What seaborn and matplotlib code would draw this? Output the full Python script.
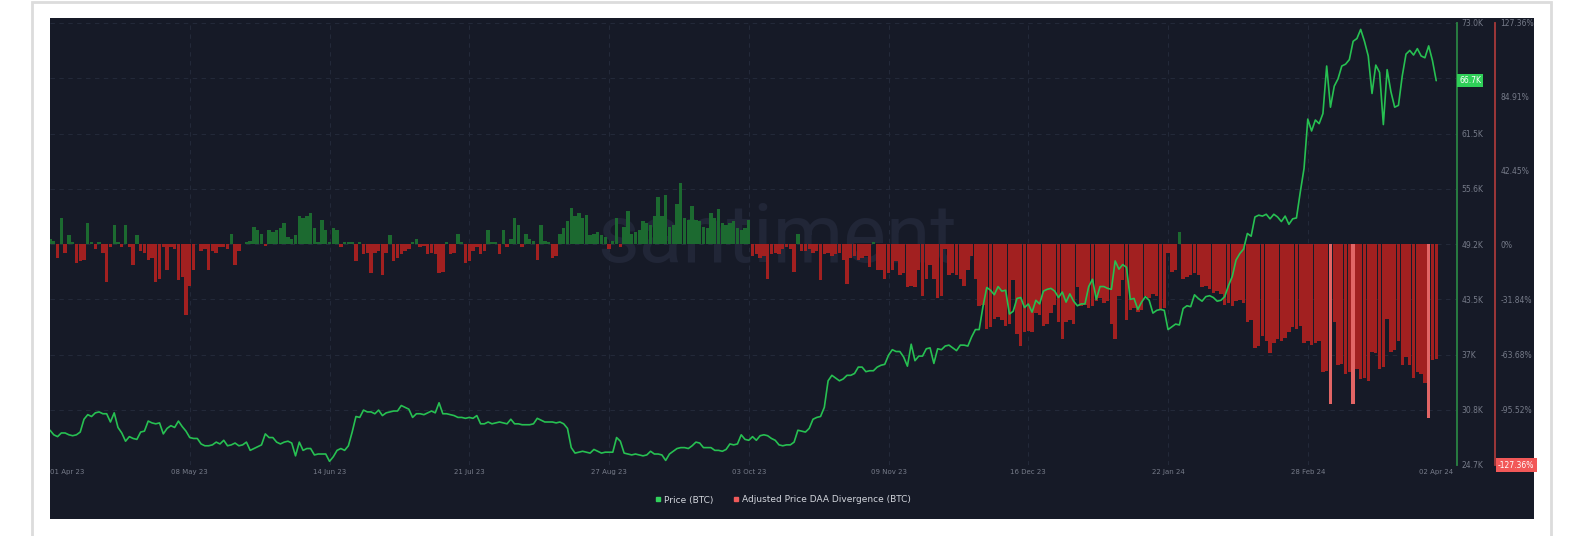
import numpy as np
import pandas as pd
import matplotlib
matplotlib.use('Agg')
import matplotlib.pyplot as plt
from matplotlib.patches import Rectangle
from matplotlib.lines import Line2D
import seaborn as sns

# BTC daily price in thousand USD, 01 Apr 2023 .. 02 Apr 2024
price_k = [
    # Apr 23
    28.5, 28.0, 27.8, 28.2, 28.2, 28.0, 27.9, 28.0, 28.3, 29.7,
    30.2, 30.0, 30.4, 30.5, 30.3, 30.3, 29.4, 30.4, 28.8, 28.2,
    27.3, 27.8, 27.6, 27.5, 28.3, 28.4, 29.5, 29.3, 29.2, 29.3,
    # May 23
    28.1, 28.7, 29.0, 28.8, 29.5, 28.9, 28.4, 27.7, 27.6, 27.6,
    27.0, 26.8, 26.8, 26.9, 27.2, 27.0, 27.4, 26.8, 26.9, 27.1,
    26.8, 26.9, 27.2, 26.3, 26.5, 26.7, 26.9, 28.1, 27.7, 27.7,
    27.2,
    # Jun 23
    27.0, 27.2, 27.3, 27.1, 25.7, 27.2, 26.3, 26.5, 26.5, 25.8,
    25.9, 25.9, 25.9, 25.1, 25.6, 26.3, 26.5, 26.3, 26.8, 28.3,
    30.0, 29.9, 30.7, 30.5, 30.5, 30.3, 30.7, 30.1, 30.4, 30.5,
    # Jul 23
    30.6, 30.6, 31.2, 31.0, 30.8, 29.9, 30.3, 30.3, 30.2, 30.4,
    30.6, 30.4, 31.5, 30.3, 30.3, 30.2, 30.1, 29.9, 29.9, 29.8,
    29.9, 29.8, 30.1, 29.2, 29.2, 29.4, 29.2, 29.3, 29.4, 29.3,
    29.2,
    # Aug 23
    29.7, 29.2, 29.2, 29.1, 29.1, 29.1, 29.2, 29.8, 29.6, 29.4,
    29.4, 29.4, 29.3, 29.4, 29.2, 28.7, 26.6, 26.0, 26.1, 26.2,
    26.1, 26.0, 26.4, 26.2, 26.0, 26.1, 26.1, 26.1, 27.7, 27.3,
    26.0,
    # Sep 23
    25.9, 25.8, 25.9, 25.8, 25.7, 25.8, 26.2, 25.9, 25.9, 25.8,
    25.2, 25.9, 26.2, 26.5, 26.6, 26.6, 26.5, 26.8, 27.2, 27.1,
    26.6, 26.6, 26.6, 26.3, 26.3, 26.2, 26.4, 27.0, 26.9, 27.0,
    # Oct 23
    28.0, 27.5, 27.4, 27.8, 27.4, 27.9, 28.0, 27.9, 27.6, 27.4,
    26.9, 26.8, 26.9, 26.9, 27.2, 28.5, 28.4, 28.3, 28.7, 29.7,
    29.9, 30.0, 31.0, 33.9, 34.5, 34.2, 33.9, 34.1, 34.5, 34.5,
    34.7,
    # Nov 23
    35.4, 35.4, 34.9, 35.0, 35.0, 35.4, 35.6, 35.7, 36.7, 37.3,
    37.1, 37.1, 36.5, 35.5, 37.9, 36.1, 36.6, 36.6, 37.4, 37.5,
    35.8, 37.4, 37.3, 37.7, 37.8, 37.5, 37.2, 37.8, 37.8, 37.7,
    # Dec 23
    38.7, 39.5, 39.5, 42.0, 44.1, 43.8, 43.3, 44.2, 43.7, 43.8,
    41.2, 41.5, 42.9, 43.0, 41.9, 42.3, 41.4, 42.7, 42.3, 43.7,
    43.9, 44.0, 43.7, 43.0, 43.6, 42.5, 43.4, 42.6, 42.1, 42.3,
    42.3,
    # Jan 24
    44.2, 45.0, 42.8, 44.2, 44.2, 44.0, 43.9, 47.0, 46.1, 46.6,
    46.3, 42.8, 42.9, 41.7, 42.5, 43.1, 42.7, 41.3, 41.6, 41.7,
    41.6, 39.5, 39.8, 40.1, 40.0, 41.8, 42.1, 42.0, 43.3, 42.9,
    42.6,
    # Feb 24
    43.1, 43.2, 43.0, 42.6, 42.7, 43.1, 44.3, 45.3, 47.1, 47.8,
    48.3, 50.0, 49.7, 51.8, 52.0, 51.9, 52.1, 51.6, 52.1, 51.8,
    51.3, 51.9, 51.0, 51.6, 51.7, 54.5, 57.1, 62.5, 61.2,
    # Mar 24
    62.4, 62.0, 63.1, 68.3, 63.8, 66.1, 66.9, 68.3, 68.5, 69.0,
    71.0, 71.3, 72.3, 71.0, 69.4, 65.3, 68.4, 67.6, 61.9, 67.9,
    65.5, 63.8, 64.0, 67.2, 69.6, 70.0, 69.5, 70.2, 69.4, 69.2,
    70.5,
    # Apr 24
    68.9, 66.7,
]

# Adjusted Price DAA Divergence (BTC), percent, same days
divergence = [
    3, 2, -8, 15, -5, 5, 1, -11, -10, -9,
    12, 1, -3, 1, -5, -22, -2, 11, 1, -2,
    11, -2, -12, 5, -4, -5, -9, -8, -22, -20,
    -2, -15, -2, -3, -21, -19, -41, -24, -15, 0,
    -4, -3, -15, -4, -5, -2, -2, -3, 6, -12,
    -4, 0, 1, 2, 10, 8, 6, -1, 8, 7,
    8, 9, 12, 4, 3, 5, 16, 15, 16, 18,
    9, 1, 14, 8, 1, 9, 8, -2, 1, 1,
    1, -10, 1, -6, -5, -17, -5, -4, -18, -5,
    5, -10, -8, -6, -4, -3, 1, 3, -2, -1,
    -6, -5, -6, -17, -16, 1, -6, -5, 6, 1,
    -11, -10, -4, -2, -6, -4, 8, 1, 1, -6,
    8, -2, 3, 15, 11, -2, 6, 3, 2, -9,
    11, 2, 1, -8, -7, 6, 9, 13, 21, 16,
    18, 15, 17, 5, 6, 7, 5, 4, -3, 2,
    15, -2, 10, 19, 6, 7, 8, 13, 12, 11,
    16, 27, 16, 28, 10, 11, 23, 35, 15, 14,
    22, 14, 13, 10, 9, 18, 15, 20, 12, 11,
    12, 13, 9, 8, 9, 14, -7, -6, -8, -7,
    -20, -6, -5, -6, -3, -2, -3, -16, 6, -4,
    -4, -3, -5, -4, -21, -6, -5, -7, -6, -5,
    -9, -23, -8, -7, -9, -8, -7, -13, 1, -15,
    -15, -20, -17, -15, -10, -18, -17, -25, -24, -25,
    -15, -30, -20, -12, -20, -31, -30, -3, -18, -17,
    -18, -20, -24, -15, -7, -20, -36, -35, -49, -48,
    -43, -42, -44, -47, -46, -21, -52, -59, -51, -50,
    -51, -40, -41, -47, -46, -40, -35, -45, -55, -45,
    -44, -46, -25, -36, -35, -37, -36, -33, -31, -34,
    -33, -46, -55, -30, -21, -44, -38, -37, -39, -38,
    -30, -31, -29, -30, -38, -37, -5, -16, -15, 7,
    -20, -19, -18, -17, -18, -25, -24, -26, -28, -27,
    -29, -35, -34, -36, -33, -32, -34, -45, -44, -60,
    -59, -53, -56, -63, -57, -55, -56, -54, -51, -48,
    -49, -47, -57, -56, -58, -57, -56, -74, -73, -92,
    -45, -70, -69, -75, -74, -92, -72, -78, -77, -79,
    -62, -63, -72, -71, -43, -62, -61, -56, -70, -65,
    -70, -77, -74, -75, -80, -100, -67, -66,
]

price_tick_labels = ['24.7K', '30.8K', '37K', '43.5K', '49.2K', '55.6K', '61.5K', '67.1K', '73.0K']
pct_ticks = [127.36, 84.91, 42.45, 0, -31.84, -63.68, -95.52]
pct_tick_labels = ['127.36%', '84.91%', '42.45%', '0%', '-31.84%', '-63.68%', '-95.52%']
date_ticks = ['2023-04-01', '2023-05-08', '2023-06-14', '2023-07-21', '2023-08-27', '2023-10-03',
              '2023-11-09', '2023-12-16', '2024-01-22', '2024-02-28', '2024-04-02']
legend_labels = ['Price (BTC)', 'Adjusted Price DAA Divergence (BTC)']

BG = '#161a27'
GRID = '#232939'
TICK = '#767b89'
LINE = '#27c052'
RED_BAR = '#a22020'
GREEN_BAR = '#1c6a30'
PALE_BAR = '#e26565'

dates = pd.date_range('2023-04-01', periods=len(price_k), freq='D')
df = pd.DataFrame({'date': dates, 'price': price_k, 'div': divergence})

sns.set_theme(style='dark')
plt.rcParams['font.family'] = ['DejaVu Sans']

W, H = 1595, 536
fig = plt.figure(figsize=(W / 100, H / 100), dpi=100, facecolor='white')


def box(x0, y0, x1, y1):
    return [x0 / W, 1 - y1 / H, (x1 - x0) / W, (y1 - y0) / H]


# light frame of the card
fig.add_artist(Rectangle((32 / W, -0.05), (1551 - 32) / W, 1.05 - 1.5 / H,
                         transform=fig.transFigure, fill=False, edgecolor='#dcdcdc', lw=2))

# dark panel + watermark
bg = fig.add_axes(box(50, 18, 1534, 519))
bg.set_facecolor(BG)
bg.set_xticks([])
bg.set_yticks([])
for s in bg.spines.values():
    s.set_visible(False)
bg.text(0.497, 0.513, 'santiment.', transform=bg.transAxes, ha='center', va='baseline',
        fontsize=58, family='Roboto', color='#212637')

# plot area
ax = fig.add_axes(box(50, 23, 1457, 465))
ax2 = ax.twinx()
ax.set_zorder(ax2.get_zorder() + 1)
ax.patch.set_visible(False)
ax2.patch.set_visible(False)

start = dates[0]
ax.set_xlim(start, start + pd.Timedelta(days=372.5))
ax.set_ylim(24.7, 73.0)
ax2.set_ylim(-127.36, 127.36)

# grid (drawn on the bar axes so it stays behind everything)
price_pos = np.linspace(24.7, 73.0, len(price_tick_labels))
for i in range(len(price_pos)):
    f = i / (len(price_pos) - 1)
    ax2.plot([0, 1], [f, f], transform=ax2.transAxes, color=GRID, lw=0.8, ls=(0, (4, 4)), zorder=0)
for d in date_ticks[1:-1]:
    ax2.axvline(pd.Timestamp(d), color=GRID, lw=0.8, ls=(0, (4, 4)), zorder=0)

# divergence bars
colors = [PALE_BAR if v <= -90 else (GREEN_BAR if v > 0 else RED_BAR) for v in df['div']]
ax2.bar(df['date'], df['div'], width=0.9, color=colors, linewidth=0, zorder=2)

# price line
sns.lineplot(data=df, x='date', y='price', ax=ax, color=LINE, linewidth=1.2)
ax.set_xlabel('')
ax.set_ylabel('')

# axes styling
for s in ['left', 'top', 'bottom']:
    ax.spines[s].set_visible(False)
    ax2.spines[s].set_visible(False)
ax.spines['right'].set_color('#2a8443')
ax.spines['right'].set_linewidth(1.3)
ax2.spines['right'].set_position(('axes', (1495 - 50) / 1407))
ax2.spines['right'].set_color('#a83a3a')
ax2.spines['right'].set_linewidth(1.3)

ax.yaxis.tick_right()
ax.set_yticks(price_pos)
ax.set_yticklabels(price_tick_labels)
ax.tick_params(axis='y', length=0, pad=3, labelsize=5.5, labelcolor=TICK)
ax2.set_yticks(pct_ticks)
ax2.set_yticklabels(pct_tick_labels)
ax2.tick_params(axis='y', length=0, pad=4, labelsize=5.5, labelcolor=TICK)

ax.set_xticks([pd.Timestamp(d) for d in date_ticks])
ax.set_xticklabels([pd.Timestamp(d).strftime('%d %b %y') for d in date_ticks])
ax.tick_params(axis='x', length=0, pad=3, labelsize=5, labelcolor=TICK)
ax.get_xticklabels()[0].set_ha('left')
ax.grid(False)
ax2.grid(False)

# last value badges
ax.text(1.0015, price_k[-1], f'{price_k[-1]:.1f}K', transform=ax.get_yaxis_transform(),
        ha='left', va='center', fontsize=5.5, color='white', zorder=10,
        bbox=dict(boxstyle='square,pad=0.25', fc='#2fcf58', ec='none'))
ax2.text((1498 - 50) / 1407, -127.36, f'{-127.36:.2f}%', transform=ax2.get_yaxis_transform(),
         ha='left', va='center', fontsize=5.5, color='white', zorder=10,
         bbox=dict(boxstyle='square,pad=0.3', fc='#f25858', ec='none'))

# legend
handles = [Line2D([], [], marker='s', ls='none', color='#31d15c', markersize=3.5),
           Line2D([], [], marker='s', ls='none', color='#f05a5a', markersize=3.5)]
fig.legend(handles, legend_labels, loc='center', bbox_to_anchor=(783 / W, 1 - 500 / H), ncol=2,
           frameon=False, fontsize=6.5, labelcolor='#d3d6dd', handlelength=0.6,
           handletextpad=0.4, columnspacing=2.2)

fig.savefig('out.png', dpi=100, facecolor='white')
plt.close(fig)
